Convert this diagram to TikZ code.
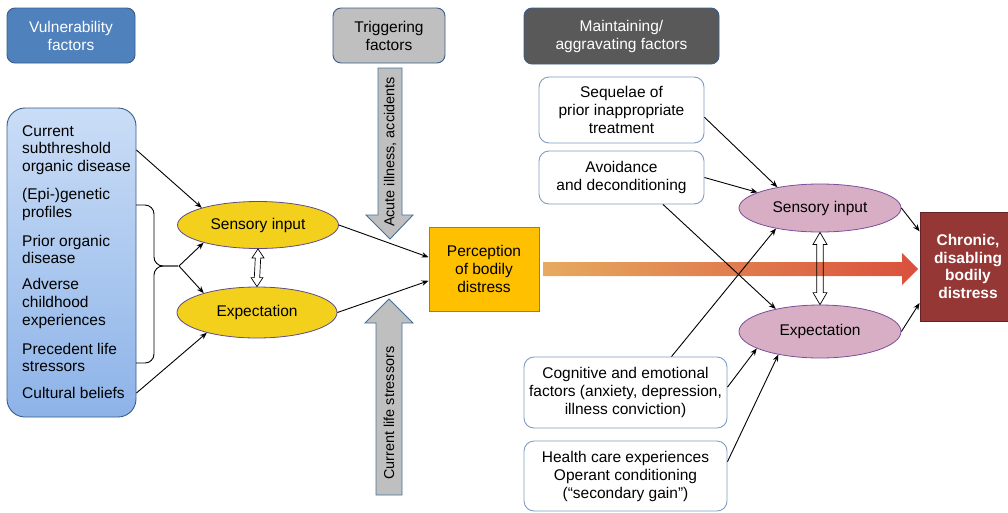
\documentclass[tikz,border=0pt]{standalone}
\usepackage{fontspec}
\setmainfont{Liberation Sans}
\usetikzlibrary{arrows.meta,shapes.geometric,calc}

\definecolor{vulblue}{HTML}{4F81BD}
\definecolor{darkblue}{HTML}{385D8A}
\definecolor{listtop}{HTML}{CADDF6}
\definecolor{listbot}{HTML}{8DB3E8}
\definecolor{sensyellow}{HTML}{F2D01C}
\definecolor{ellborder}{HTML}{5E4C8C}
\definecolor{triggray}{HTML}{BFBFBF}
\definecolor{arrowblue}{HTML}{41719C}
\definecolor{percorange}{HTML}{FFC000}
\definecolor{percborder}{HTML}{8C7A6B}
\definecolor{maintgray}{HTML}{595959}
\definecolor{boxborder}{HTML}{7F9CC2}
\definecolor{pinkfill}{HTML}{D8AEC4}
\definecolor{pinkborder}{HTML}{7A4E9A}
\definecolor{chronred}{HTML}{953735}
\definecolor{chronborder}{HTML}{632523}
\definecolor{flowstart}{HTML}{E6AA60}
\definecolor{flowend}{HTML}{DA503C}

\tikzset{
  txt/.style={font=\fontsize{15.5}{18}\selectfont, align=center, inner sep=0pt},
  item/.style={font=\fontsize{15.5}{17.6}\selectfont, align=left, inner sep=0pt, anchor=west},
  header/.style={txt, rounded corners=8pt, draw=darkblue, line width=0.9pt},
  whitebox/.style={txt, draw=boxborder, line width=0.9pt, fill=white, rounded corners=10pt},
  yell/.style={txt, ellipse, draw=ellborder, line width=0.8pt, fill=sensyellow},
  pinkell/.style={txt, ellipse, draw=pinkborder, line width=0.8pt, fill=pinkfill},
  link/.style={line width=0.9pt, -{Stealth[length=7pt,width=5.5pt]}},
  hollow/.style={line width=0.7pt, draw=black},
  blockarr/.style={fill=triggray, draw=arrowblue, line width=0.9pt, line join=miter},
  rot/.style={font=\fontsize{14.4}{17}\selectfont, inner sep=0pt, rotate=90},
}

\begin{document}
\begin{tikzpicture}[x=1pt, y=-1pt]
\useasboundingbox (0,0) rectangle (1008,512);

% ---- column headers
\node[header, fill=vulblue, text=white, minimum width=128pt, minimum height=55pt]
  (vul) at (71,35.5) {Vulnerability\\factors};
\node[header, fill=triggray, minimum width=112pt, minimum height=55pt]
  (trig) at (389,35.5) {Triggering\\factors};
\node[header, fill=maintgray, text=white, minimum width=195pt, minimum height=56pt]
  (maint) at (621.5,36) {Maintaining/\\aggravating factors};

% ---- vulnerability list
\node[draw=darkblue, line width=0.9pt, rounded corners=18pt, top color=listtop,
  bottom color=listbot, minimum width=129pt, minimum height=309pt, inner sep=0pt]
  (lst) at (71.5,262.5) {};
\node[item] (cur) at (22,150) {Current\\subthreshold\\organic disease};
\node[item] (epi) at (22,204.5) {(Epi-)genetic\\profiles};
\node[item] (pri) at (22,249.5) {Prior organic\\disease};
\node[item] (adv) at (22,303.5) {Adverse\\childhood\\experiences};
\node[item] (pre) at (22,357.5) {Precedent life\\stressors};
\node[item] (cul) at (22,393) {Cultural beliefs};

% brace grouping the middle items
\draw[line width=0.9pt, rounded corners=9pt] (136,205) -| (154,266) -- (178,266);
\draw[line width=0.9pt, rounded corners=9pt] (136,363) -| (154,266) -- (178,266);
\coordinate (br) at (179,266);

% ---- left ellipses
\node[yell, minimum width=161pt, minimum height=47pt] (si) at (258,225) {Sensory input};
\node[yell, minimum width=160pt, minimum height=51pt] (ex) at (257,312.5) {Expectation};

% ---- triggering block arrows
\draw[blockarr] (378,68) -- (402,68) -- (402,215) -- (413,215) -- (390,239)
  -- (366,215) -- (378,215) -- cycle;
\node[rot] (acute) at (390,152) {Acute illness, accidents};
\draw[blockarr] (376,495) -- (402,495) -- (402,323) -- (413,323) -- (389,299)
  -- (365,323) -- (376,323) -- cycle;
\node[rot] (curls) at (389,413) {Current life stressors};

% ---- perception
\node[txt, draw=percborder, line width=0.9pt, fill=percorange,
  minimum width=110pt, minimum height=84pt] (per) at (484,269)
  {Perception\\of bodily\\distress};

% ---- chronic outcome
\node[txt, font=\fontsize{15.5}{17.7}\selectfont\bfseries, text=white,
  draw=chronborder, line width=0.9pt, fill=chronred,
  minimum width=96pt, minimum height=109pt] (chr) at (968,266.5)
  {Chronic,\\disabling\\bodily\\distress};

% ---- progression arrow
\shade[left color=flowstart, right color=flowend]
  (543,262) -- (902,262) -- (902,253) -- (918,269) -- (902,285) -- (902,276)
  -- (543,276) -- cycle;

% ---- maintaining factors
\node[whitebox, minimum width=165pt, minimum height=66pt] (seq) at (621.5,110)
  {Sequelae of\\prior inappropriate\\treatment};
\node[whitebox, minimum width=165pt, minimum height=53pt] (avo) at (621.5,177.5)
  {Avoidance\\and deconditioning};
\node[whitebox, minimum width=203pt, minimum height=71pt] (cog) at (625.5,392.5)
  {Cognitive and emotional\\factors (anxiety, depression,\\illness conviction)};
\node[whitebox, minimum width=203pt, minimum height=70pt] (hea) at (625.5,476)
  {Health care experiences\\Operant conditioning\\(“secondary gain”)};

% ---- right ellipses
\node[pinkell, minimum width=162pt, minimum height=48pt] (psi) at (820,208) {Sensory input};
\node[pinkell, minimum width=162pt, minimum height=53pt] (pex) at (820,331.5) {Expectation};

% ---- reciprocal hollow arrows
\draw[hollow, fill=white] (si.south) -- ++(6,9) -- ++(-3.3,0) -- ($(ex.north)+(2.7,-9)$)
  -- ++(3.3,0) -- (ex.north) -- ++(-6,-9) -- ++(3.3,0) -- ($(si.south)+(-2.7,9)$)
  -- ++(-3.3,0) -- cycle;
\draw[hollow] (psi.south) -- ++(7,12) -- ++(-3.7,0) -- ($(pex.north)+(3.3,-12)$)
  -- ++(3.7,0) -- (pex.north) -- ++(-7,-12) -- ++(3.7,0) -- ($(psi.south)+(-3.3,12)$)
  -- ++(-3.7,0) -- cycle;

% ---- connectors, left half
\draw[link] (lst.east |- cur) -- (si.163);
\draw[link] (br) -- (si.198);
\draw[link] (br) -- (ex.160);
\draw[link] (lst.east |- cul) -- (ex.202);
\draw[link] (si.east) -- (per.168);
\draw[link] (ex.east) -- (per.192);

% ---- connectors, right half
\draw[link] (seq.355) -- (psi.154);
\draw[link] (avo.east) -- (psi.166);
\draw[link] (avo.327) -- (pex.153);
\draw[link] (cog.38) -- (psi.205);
\draw[link] (cog.3) -- (pex.195);
\draw[link] (hea.8) -- (pex.209);
\draw[link] (psi.east) -- (chr.144);
\draw[link] (pex.east) -- (chr.217);
\end{tikzpicture}
\end{document}
